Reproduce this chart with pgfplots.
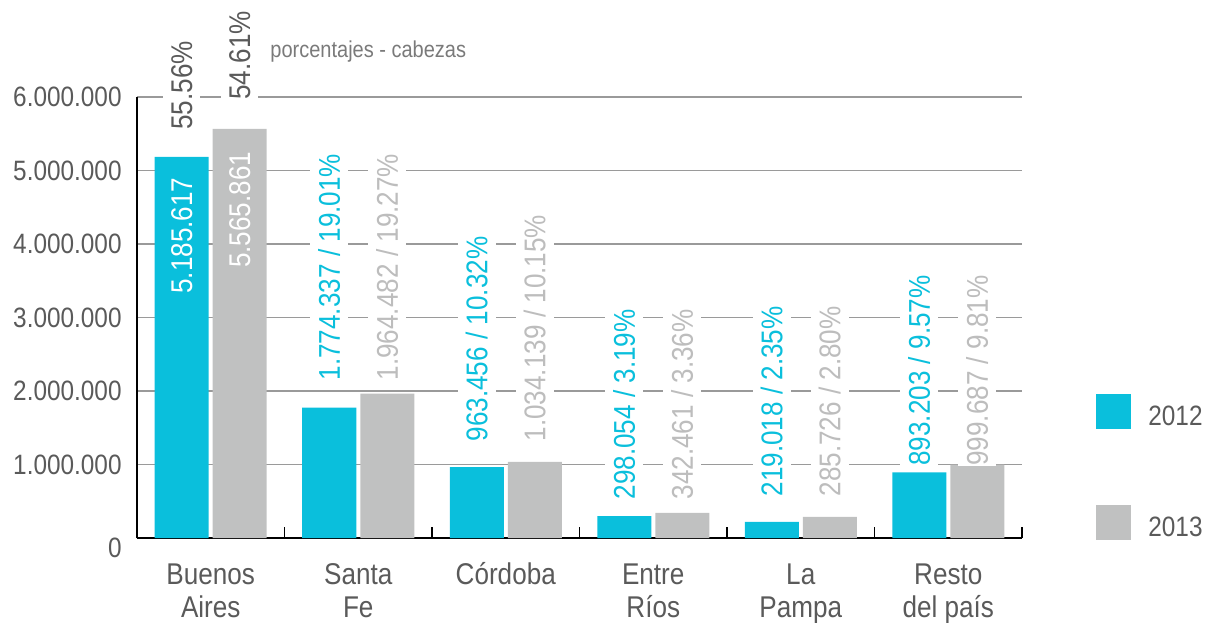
\documentclass[border=0pt]{standalone}
\usepackage{pgfplots}
\pgfplotsset{compat=1.18}
\usepackage{fontspec}
\setmainfont{Liberation Sans}[FakeStretch=0.87]
\definecolor{c12}{HTML}{0ABFDC}
\definecolor{c13}{HTML}{C0C1C1}
\definecolor{txt}{HTML}{5A5A5A}
\definecolor{l13}{HTML}{BDBDBD}
\definecolor{gridc}{HTML}{9A9A9A}
\definecolor{subt}{HTML}{7A7A7A}
\tikzset{lab/.style={rotate=90, anchor=west, font=\fontsize{15bp}{15bp}\selectfont, inner xsep=0pt, inner ysep=4bp, fill=white}}
\begin{document}
\begin{tikzpicture}
\begin{axis}[
  at={(0,0)}, anchor=south west,
  scale only axis, width=442.5bp, height=220.5bp,
  xmin=-0.5, xmax=5.5, ymin=0, ymax=6000000,
  clip=false,
  ybar=2bp, bar width=27bp,
  axis lines*=left,
  axis line style={black, line width=0.9bp},
  ymajorgrids,
  major grid style={draw=gridc, line width=0.6bp},
  xtick={-0.5,0.5,1.5,2.5,3.5,4.5,5.5},
  xticklabels={,,,,,,},
  tick align=inside,
  major tick length=5.5bp,
  xtick style={draw=black, line width=0.9bp},
  ytick style={draw=none},
  extra x ticks={0,1,2,3,4,5},
  extra x tick labels={{Buenos\\Aires},{Santa\\Fe},{Córdoba\\\mbox{}},{Entre\\Ríos},{La\\Pampa},{Resto\\del país}},
  extra x tick style={major tick length=0pt},
  xticklabel style={font=\fontsize{15bp}{16.5bp}\selectfont, text=txt, align=center, inner sep=0pt, anchor=base, yshift=-39.5bp},
  scaled y ticks=false,
  ytick={0,1000000,2000000,3000000,4000000,5000000,6000000},
  yticklabels={{\raisebox{-9.5bp}[0pt][0pt]{0}},1.000.000,2.000.000,3.000.000,4.000.000,5.000.000,6.000.000},
  yticklabel style={font=\fontsize{14bp}{16bp}\selectfont, text=txt, inner sep=0pt, anchor=east, xshift=-7.5bp},
  legend style={at={(1,0)}, anchor=south west, xshift=37bp, yshift=-1bp, draw=none, fill=none, inner sep=0pt,
    row sep=38bp, column sep=8.5bp, font=\fontsize{14bp}{14bp}\selectfont, text=txt, nodes={inner sep=0pt}},
  legend cell align=left,
]
\addplot[fill=c12, draw=none, legend image code/.code={\fill[c12] (0bp,-5.75bp) rectangle (17.5bp,11.75bp);}]
  coordinates {(0,5185617) (1,1774337) (2,963456) (3,298054) (4,219018) (5,893203)};
\addplot[fill=c13, draw=none, legend image code/.code={\fill[c13] (0bp,-5.75bp) rectangle (17.5bp,11.75bp);}]
  coordinates {(0,5565861) (1,1964482) (2,1034139) (3,342461) (4,285726) (5,999687)};
\legend{2012,2013}

% Buenos Aires
\node[lab, fill=none, text=white] at (axis cs:-0.1966,3320000) {5.185.617};
\node[lab, fill=none, text=white] at (axis cs:0.1966,3670000) {5.565.861};
\node[lab, text=txt] at (axis cs:-0.1966,5550000) {55.56\%};
\node[lab, text=txt] at (axis cs:0.1966,5960000) {54.61\%};
% Santa Fe
\node[lab, text=c12] at (axis cs:0.8034,2140000) {1.774.337 / 19.01\%};
\node[lab, text=l13] at (axis cs:1.1966,2140000) {1.964.482 / 19.27\%};
% Cordoba
\node[lab, text=c12] at (axis cs:1.8034,1310000) {963.456 / 10.32\%};
\node[lab, text=l13] at (axis cs:2.1966,1310000) {1.034.139 / 10.15\%};
% Entre Rios
\node[lab, text=c12] at (axis cs:2.8034,520000) {298.054 / 3.19\%};
\node[lab, text=l13] at (axis cs:3.1966,520000) {342.461 / 3.36\%};
% La Pampa
\node[lab, text=c12] at (axis cs:3.8034,560000) {219.018 / 2.35\%};
\node[lab, text=l13] at (axis cs:4.1966,560000) {285.726 / 2.80\%};
% Resto
\node[lab, text=c12] at (axis cs:4.8034,980000) {893.203 / 9.57\%};
\node[lab, text=l13] at (axis cs:5.1966,980000) {999.687 / 9.81\%};

\node[anchor=base west, inner sep=0pt, font=\fontsize{11.5bp}{12bp}\selectfont, text=subt] at (rel axis cs:0.1503,1.0907) {porcentajes - cabezas};
\end{axis}
\pgfresetboundingbox
\path[use as bounding box] (-68.5bp,-42.5bp) rectangle (535bp,269bp);
\end{tikzpicture}
\end{document}
